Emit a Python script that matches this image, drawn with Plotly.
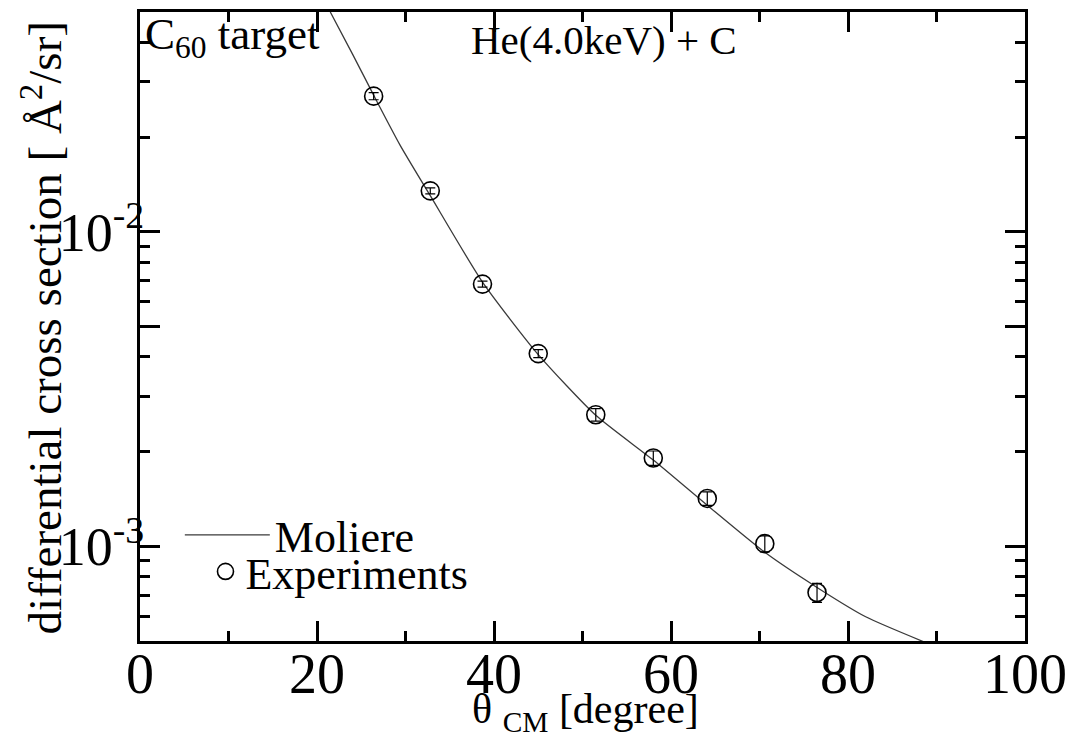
import plotly.graph_objects as go

# Measured differential cross sections, He(4.0 keV) + C, C60 target
theta_exp = [26.4, 32.8, 38.7, 45.0, 51.5, 58.0, 64.1, 70.6, 76.5]
dcs_exp = [0.0270, 0.0135, 0.00682, 0.00410, 0.00262, 0.00191, 0.00142, 0.00102, 0.000713]
dcs_err = [0.0007, 0.0003, 0.00015, 0.00012, 0.00012, 0.00010, 0.00007, 0.00006, 0.00005]

# Moliere potential calculation
theta_mol = [21.5, 24.0, 26.4, 29.4, 32.8, 38.7, 45.0, 51.5, 58.0, 64.1, 70.6, 76.5, 82.0, 88.5]
dcs_mol = [0.0500, 0.0368, 0.0272, 0.01884, 0.01303, 0.00692, 0.00407, 0.00261, 0.00188,
           0.00135, 0.000957, 0.00074, 0.000597, 0.000498]

x_ticks = [0, 20, 40, 60, 80, 100]
x_minor = [10, 30, 50, 70, 90]
y_ticks = [0.001, 0.005, 0.01]
y_ticktext = ["10<sup>-3</sup>", "", "10<sup>-2</sup>"]
y_minor = [6e-4, 7e-4, 8e-4, 9e-4, 2e-3, 3e-3, 4e-3, 6e-3, 7e-3, 8e-3, 9e-3, 2e-2, 3e-2, 4e-2]

FONT = "Liberation Serif, Times New Roman, serif"

fig = go.Figure()
fig.add_trace(go.Scatter(
    x=theta_mol, y=dcs_mol, mode="lines", name="Moliere", legend="legend",
    line=dict(color="#3a3a3a", width=1.3, shape="spline", smoothing=0.6),
))
fig.add_trace(go.Scatter(
    x=theta_exp, y=dcs_exp, mode="markers", name="Experiments", legend="legend2",
    marker=dict(symbol="circle-open", size=18, color="black", line=dict(width=1.6)),
    error_y=dict(type="data", array=dcs_err, color="black", thickness=1.2, width=5),
))

axis_common = dict(
    showline=True, linecolor="black", linewidth=3, mirror="ticks",
    ticks="inside", tickcolor="black", tickwidth=2.5, ticklen=20,
    showgrid=False, zeroline=False, automargin=False,
)

fig.update_xaxes(
    range=[0, 100], tickvals=x_ticks,
    tickfont=dict(family=FONT, size=56, color="black"), ticklabelstandoff=-18,
    minor=dict(tickvals=x_minor, ticks="inside", ticklen=10, tickwidth=2.5, tickcolor="black"),
    **axis_common,
)
fig.update_yaxes(
    type="log", range=[-3.301, -1.301], tickvals=y_ticks, ticktext=y_ticktext,
    tickfont=dict(family=FONT, size=54, color="black"), ticklabelstandoff=-18,
    minor=dict(tickvals=y_minor, ticks="inside", ticklen=10, tickwidth=2.5, tickcolor="black"),
    **axis_common,
)

# Axis titles
fig.add_annotation(
    x=0.503, y=-0.1575, xref="paper", yref="paper", xanchor="center", yanchor="bottom",
    text="θ <sub>CM</sub> [degree]", showarrow=False,
    font=dict(family=FONT, size=42, color="black"),
)
fig.add_annotation(
    x=-0.1107, y=0.497, xref="paper", yref="paper", xanchor="center", yanchor="middle",
    text="differential cross section [ Å<sup>2</sup>/sr]", showarrow=False, textangle=-90,
    font=dict(family=FONT, size=47, color="black"),
)

# In-plot labels
fig.add_annotation(
    x=0.003, y=1.0, xref="paper", yref="paper", xanchor="left", yanchor="top", yshift=5,
    text="C<sub>60</sub> target", showarrow=False,
    font=dict(family=FONT, size=45, color="black"),
)
fig.add_annotation(
    x=0.372, y=0.995, xref="paper", yref="paper", xanchor="left", yanchor="top",
    text="He(4.0keV) + C", showarrow=False,
    font=dict(family=FONT, size=41, color="black"),
)

legend_style = dict(
    xanchor="left", yanchor="middle", bgcolor="rgba(0,0,0,0)", borderwidth=0,
    font=dict(family=FONT, size=44, color="black"),
)

fig.update_layout(
    width=1068, height=743,
    margin=dict(l=140, r=43, t=12, b=102),
    paper_bgcolor="white", plot_bgcolor="white",
    showlegend=True,
    legend=dict(x=0.045, y=0.168, itemwidth=85, **legend_style),
    legend2=dict(x=0.074, y=0.11, itemwidth=30, **legend_style),
)

fig.write_html("out.html")
